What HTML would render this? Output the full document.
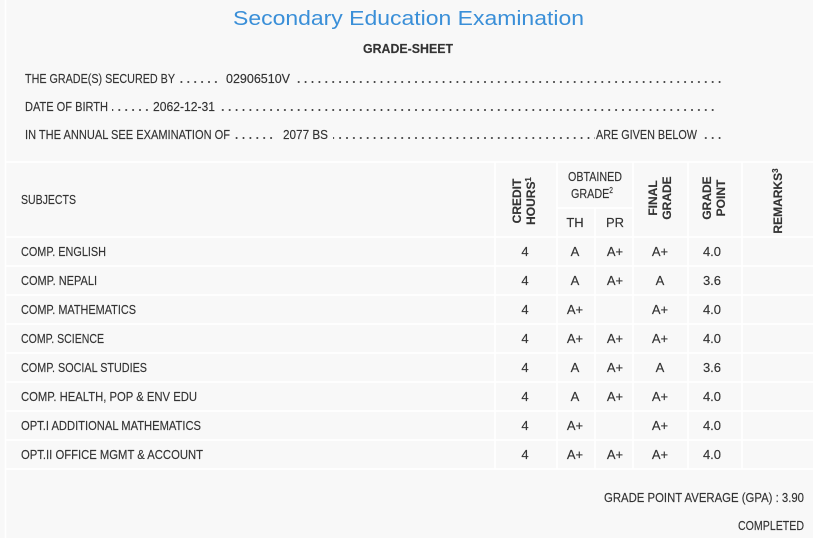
<!DOCTYPE html>
<html><head><meta charset="utf-8"><style>
html,body{margin:0;padding:0;background:#f8f8f8;}
svg{display:block;}
text{font-family:"Liberation Sans",sans-serif;fill:#333;font-size:13px;stroke:#333;stroke-width:0.15;}
.b{font-weight:bold;}
</style></head><body>
<svg width="813" height="538" viewBox="0 0 813 538" xmlns="http://www.w3.org/2000/svg">
<defs>
<pattern id="dots" x="0" y="0" width="6.9" height="4" patternUnits="userSpaceOnUse">
<circle cx="2" cy="2" r="1" fill="#333"/>
</pattern>
</defs>
<rect width="813" height="538" fill="#f8f8f8"/>
<line x1="5.5" y1="0" x2="5.5" y2="538" stroke="#fff" stroke-width="1.5"/>

<text x="233" y="25" style="font-size:20px;fill:#3a8fd8;stroke:none" textLength="351" lengthAdjust="spacingAndGlyphs">Secondary Education Examination</text>
<text class="b" x="363" y="53" textLength="90" lengthAdjust="spacingAndGlyphs">GRADE-SHEET</text>

<text x="25" y="83" textLength="150" lengthAdjust="spacingAndGlyphs">THE GRADE(S) SECURED BY</text>
<rect x="179" y="79" width="42" height="4" fill="url(#dots)"/>
<text x="226" y="83" textLength="64" lengthAdjust="spacingAndGlyphs">02906510V</text>
<rect x="296" y="79" width="428" height="4" fill="url(#dots)"/>

<text x="25" y="111" textLength="83" lengthAdjust="spacingAndGlyphs">DATE OF BIRTH</text>
<rect x="112" y="107" width="38" height="4" fill="url(#dots)"/>
<text x="153" y="111" textLength="62" lengthAdjust="spacingAndGlyphs">2062-12-31</text>
<rect x="220" y="107" width="496" height="4" fill="url(#dots)"/>

<text x="25" y="139" textLength="205" lengthAdjust="spacingAndGlyphs">IN THE ANNUAL SEE EXAMINATION OF</text>
<rect x="235" y="135" width="42" height="4" fill="url(#dots)"/>
<text x="283" y="139" textLength="45" lengthAdjust="spacingAndGlyphs">2077 BS</text>
<rect x="333" y="135" width="262" height="4" fill="url(#dots)"/>
<text x="596" y="139" textLength="101" lengthAdjust="spacingAndGlyphs">ARE GIVEN BELOW</text>
<rect x="700" y="135" width="24" height="4" fill="url(#dots)"/>

<g stroke="#fff" stroke-width="1.5">
<line x1="6" y1="162" x2="813" y2="162"/>
<line x1="557" y1="208" x2="633" y2="208"/>
<line x1="6" y1="237" x2="813" y2="237"/>
<line x1="6" y1="266" x2="813" y2="266"/>
<line x1="6" y1="295" x2="813" y2="295"/>
<line x1="6" y1="324" x2="813" y2="324"/>
<line x1="6" y1="353" x2="813" y2="353"/>
<line x1="6" y1="382" x2="813" y2="382"/>
<line x1="6" y1="411" x2="813" y2="411"/>
<line x1="6" y1="440" x2="813" y2="440"/>
<line x1="6" y1="469" x2="813" y2="469"/>
<line x1="495" y1="162" x2="495" y2="469"/>
<line x1="557" y1="162" x2="557" y2="469"/>
<line x1="595" y1="208" x2="595" y2="469"/>
<line x1="633" y1="162" x2="633" y2="469"/>
<line x1="688" y1="162" x2="688" y2="469"/>
<line x1="742" y1="162" x2="742" y2="469"/>
</g>

<text x="21" y="204" textLength="55" lengthAdjust="spacingAndGlyphs">SUBJECTS</text>
<text x="595" y="181" text-anchor="middle" textLength="54" lengthAdjust="spacingAndGlyphs">OBTAINED</text>
<text x="592" y="198" text-anchor="middle" textLength="42" lengthAdjust="spacingAndGlyphs">GRADE<tspan dy="-5" style="font-size:8px">2</tspan></text>
<text x="575" y="227" text-anchor="middle">TH</text>
<text x="615" y="227" text-anchor="middle">PR</text>
<text class="b" transform="translate(521,201) rotate(-90)" text-anchor="middle" style="font-size:12px">CREDIT</text>
<text class="b" transform="translate(535,201) rotate(-90)" text-anchor="middle" style="font-size:12px">HOURS<tspan dy="-4" style="font-size:8px">1</tspan></text>
<text class="b" transform="translate(657,198) rotate(-90)" text-anchor="middle" style="font-size:12px">FINAL</text>
<text class="b" transform="translate(671,198) rotate(-90)" text-anchor="middle" style="font-size:12px">GRADE</text>
<text class="b" transform="translate(711,198) rotate(-90)" text-anchor="middle" style="font-size:12px">GRADE</text>
<text class="b" transform="translate(725,198) rotate(-90)" text-anchor="middle" style="font-size:12px">POINT</text>
<text class="b" transform="translate(782,201) rotate(-90)" text-anchor="middle" style="font-size:12px">REMARKS<tspan dy="-4" style="font-size:8px">3</tspan></text>

<g>
<text x="21" y="256" textLength="85" lengthAdjust="spacingAndGlyphs">COMP. ENGLISH</text>
<text x="21" y="285" textLength="76" lengthAdjust="spacingAndGlyphs">COMP. NEPALI</text>
<text x="21" y="314" textLength="115" lengthAdjust="spacingAndGlyphs">COMP. MATHEMATICS</text>
<text x="21" y="343" textLength="83" lengthAdjust="spacingAndGlyphs">COMP. SCIENCE</text>
<text x="21" y="372" textLength="126" lengthAdjust="spacingAndGlyphs">COMP. SOCIAL STUDIES</text>
<text x="21" y="401" textLength="176" lengthAdjust="spacingAndGlyphs">COMP. HEALTH, POP &amp; ENV EDU</text>
<text x="21" y="430" textLength="180" lengthAdjust="spacingAndGlyphs">OPT.I ADDITIONAL MATHEMATICS</text>
<text x="21" y="459" textLength="182" lengthAdjust="spacingAndGlyphs">OPT.II OFFICE MGMT &amp; ACCOUNT</text>
</g>
<g text-anchor="middle">
<text x="525" y="256">4</text><text x="575" y="256">A</text><text x="615" y="256">A+</text><text x="660" y="256">A+</text><text x="712" y="256">4.0</text>
<text x="525" y="285">4</text><text x="575" y="285">A</text><text x="615" y="285">A+</text><text x="660" y="285">A</text><text x="712" y="285">3.6</text>
<text x="525" y="314">4</text><text x="575" y="314">A+</text><text x="660" y="314">A+</text><text x="712" y="314">4.0</text>
<text x="525" y="343">4</text><text x="575" y="343">A+</text><text x="615" y="343">A+</text><text x="660" y="343">A+</text><text x="712" y="343">4.0</text>
<text x="525" y="372">4</text><text x="575" y="372">A</text><text x="615" y="372">A+</text><text x="660" y="372">A</text><text x="712" y="372">3.6</text>
<text x="525" y="401">4</text><text x="575" y="401">A</text><text x="615" y="401">A+</text><text x="660" y="401">A+</text><text x="712" y="401">4.0</text>
<text x="525" y="430">4</text><text x="575" y="430">A+</text><text x="660" y="430">A+</text><text x="712" y="430">4.0</text>
<text x="525" y="459">4</text><text x="575" y="459">A+</text><text x="615" y="459">A+</text><text x="660" y="459">A+</text><text x="712" y="459">4.0</text>
</g>

<text x="604" y="502" textLength="200" lengthAdjust="spacingAndGlyphs">GRADE POINT AVERAGE (GPA) : 3.90</text>
<text x="738" y="530" textLength="66" lengthAdjust="spacingAndGlyphs">COMPLETED</text>
</svg>
</body></html>
